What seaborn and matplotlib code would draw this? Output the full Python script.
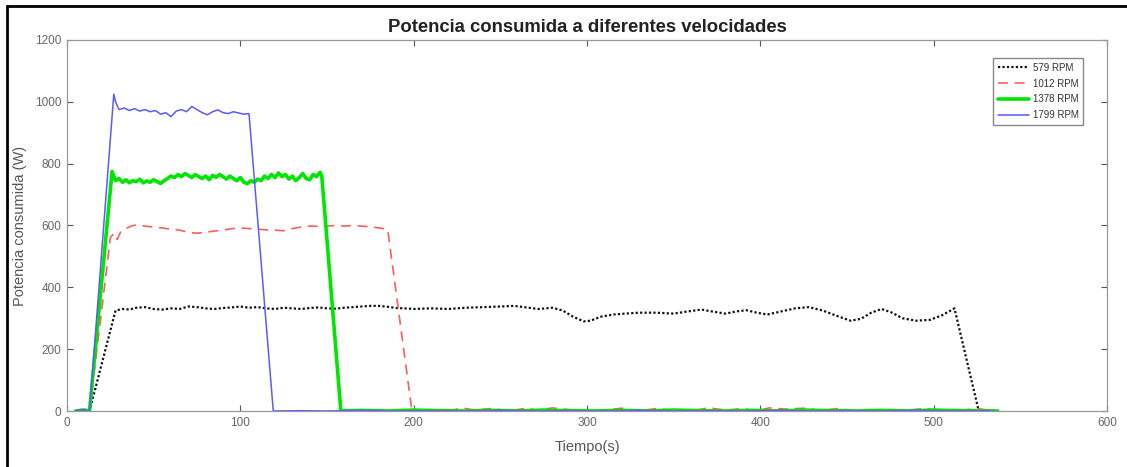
import matplotlib
matplotlib.use("Agg")
import matplotlib.pyplot as plt
from matplotlib.lines import Line2D
import seaborn as sns

sns.set_theme(style="white")
plt.rcParams['font.family'] = ['Liberation Sans', 'DejaVu Sans']

title = "Potencia consumida a diferentes velocidades"
xlabel = "Tiempo(s)"
ylabel = "Potencia consumida (W)"
labels = ["579 RPM", "1012 RPM", "1378 RPM", "1799 RPM"]
xticks = [0, 100, 200, 300, 400, 500, 600]
yticks = [0, 200, 400, 600, 800, 1000, 1200]

# 579 RPM
t579 = [5, 10, 13, 28, 32, 36, 40, 45, 50, 55, 60, 65, 70, 75, 80, 85, 90, 95, 100, 105,
        110, 115, 120, 125, 130, 135, 140, 145, 150, 155, 160, 165, 170, 175, 180, 185, 190,
        195, 200, 210, 220, 230, 240, 250, 258, 265, 272, 280, 286, 292, 298, 302, 308, 315,
        322, 330, 340, 350, 358, 366, 372, 380, 386, 392, 398, 404, 412, 420, 428, 436, 444,
        452, 458, 464, 470, 476, 482, 490, 498, 505, 512, 526, 530, 535]
p579 = [0, 3, 0, 325, 330, 328, 334, 336, 330, 328, 332, 330, 338, 336, 332, 330, 333, 335, 338, 334,
        336, 332, 330, 334, 332, 330, 333, 335, 332, 331, 334, 336, 338, 340, 340, 337, 333,
        332, 330, 332, 330, 334, 336, 338, 340, 335, 330, 334, 325, 305, 290, 292, 305, 312,
        315, 318, 318, 315, 322, 328, 322, 315, 322, 326, 318, 312, 322, 332, 336, 325, 308,
        292, 298, 318, 330, 318, 300, 292, 295, 310, 332, 0, 2, 0]

# 1012 RPM
t1012 = [5, 10, 13, 25, 27, 29, 31, 34, 37, 40, 45, 50, 55, 60, 65, 70, 75, 80, 85, 90, 95,
         100, 105, 110, 115, 120, 125, 130, 135, 140, 145, 150, 155, 160, 165, 170, 175, 180,
         185, 199, 210, 220, 228, 235, 245, 255, 265, 272, 280, 290, 298, 310, 320, 330, 340,
         350, 360, 370, 380, 390, 398, 405, 415, 425, 435, 445, 455, 465, 475, 485, 495, 505,
         515, 525, 535]
p1012 = [0, 5, 0, 560, 575, 555, 580, 590, 598, 602, 598, 595, 592, 588, 585, 578, 575, 578, 582,
         585, 590, 592, 590, 588, 586, 585, 583, 590, 595, 598, 597, 598, 600, 598, 600, 598, 596,
         592, 588, 0, 2, 0, 10, 3, 8, 0, 9, 2, 10, 4, 0, 3, 9, 0, 8, 2, 0, 10, 3, 8, 0, 10, 6, 9,
         2, 8, 0, 5, 0, 3, 8, 0, 2, 8, 0]

# 1378 RPM
t1378 = [5, 10, 13, 26, 27, 28, 30, 32, 34, 36, 38, 40, 42, 44, 46, 48, 50, 52, 54, 56, 58, 60,
         62, 64, 66, 68, 70, 72, 74, 76, 78, 80, 82, 84, 86, 88, 90, 92, 94, 96, 98, 100, 102,
         104, 106, 108, 110, 112, 114, 116, 118, 120, 122, 124, 126, 128, 130, 132, 134, 136,
         138, 140, 142, 144, 146, 147, 158, 170, 185, 200, 215, 230, 245, 260, 275, 290, 305,
         320, 335, 350, 365, 380, 395, 410, 425, 440, 455, 470, 485, 500, 515, 530, 537]
p1378 = [0, 3, 0, 775, 760, 745, 752, 740, 748, 738, 745, 742, 750, 738, 744, 740, 748, 742, 736,
         745, 752, 760, 755, 765, 758, 768, 762, 755, 765, 758, 752, 760, 748, 762, 756, 765, 758,
         750, 760, 752, 745, 755, 740, 735, 745, 740, 750, 745, 760, 752, 765, 755, 770, 758,
         765, 750, 760, 745, 755, 768, 752, 748, 765, 758, 772, 760, 0, 2, 0, 3, 1, 0, 2, 0, 3,
         1, 0, 2, 0, 3, 1, 0, 2, 0, 3, 1, 0, 2, 0, 3, 1, 0, 0]

# 1799 RPM
t1799 = [5, 8, 10, 12, 13, 27, 28, 30, 33, 36, 39, 42, 45, 48, 51, 54, 57, 60, 63, 66, 69, 72,
         75, 78, 81, 84, 87, 90, 93, 96, 99, 102, 105, 119, 135, 150, 170, 190, 210, 230, 250,
         270, 290, 310, 330, 350, 370, 390, 410, 430, 450, 470, 490, 510, 530, 535]
p1799 = [0, 5, 3, 0, 0, 1025, 1000, 975, 980, 972, 978, 970, 975, 968, 972, 960, 965, 952, 970,
         975, 968, 985, 975, 965, 958, 968, 974, 965, 962, 968, 964, 960, 962, 0, 1, 0, 2, 0, 1,
         0, 2, 0, 1, 0, 2, 0, 1, 0, 2, 0, 1, 0, 2, 0, 1, 0]

fig = plt.figure(figsize=(11.27, 4.67), dpi=100)
ax = fig.add_axes([67 / 1127, 1 - 411 / 467, 1040 / 1127, 371 / 467])

series = [
    (t579, p579, "#111111", (0, (1, 1)), 1.6, 1.0),
    (t1012, p1012, "#ff5c5c", (0, (6, 4)), 1.2, 1.0),
    (t1378, p1378, "#00e600", "-", 2.6, 1.0),
    (t1799, p1799, "#5a5aff", "-", 1.1, 1.0),
]
for (tt, pp, col, ls, lw, al), lab in zip(series, labels):
    sns.lineplot(x=tt, y=pp, ax=ax, color=col, linestyle=ls, linewidth=lw,
                 alpha=al, label=lab, estimator=None, sort=False)

ax.set_xlim(0, 600)
ax.set_ylim(0, 1200)
ax.set_xticks(xticks)
ax.set_yticks(yticks)
ax.tick_params(direction="in", length=4, width=0.8, colors="#555555",
               labelcolor="#666666", labelsize=8.5, top=True, right=True,
               bottom=True, left=True, pad=4)
for s in ax.spines.values():
    s.set_color("#999999")
    s.set_linewidth(0.9)
ax.set_title(title, fontsize=13.3, fontweight="bold", color="#222222", pad=6)
ax.set_xlabel(xlabel, fontsize=10.5, color="#555555", labelpad=8)
ax.set_ylabel(ylabel, fontsize=10.5, color="#555555", labelpad=6)

leg = ax.legend(loc="upper right", bbox_to_anchor=(0.982, 0.965), fontsize=7,
                frameon=True, fancybox=False, framealpha=1, edgecolor="#888888",
                handlelength=3.2, borderpad=0.5, labelspacing=0.6, handletextpad=0.4)
leg.get_frame().set_linewidth(1.0)
for txt in leg.get_texts():
    txt.set_color("#333333")

# screenshot frame: left and top edges only
fig.add_artist(Line2D([7 / 1127, 7 / 1127], [0, 1 - 6 / 467], transform=fig.transFigure,
                      color="black", linewidth=2))
fig.add_artist(Line2D([7 / 1127, 1], [1 - 6 / 467, 1 - 6 / 467], transform=fig.transFigure,
                      color="black", linewidth=2))

fig.savefig("out.png", dpi=100)
